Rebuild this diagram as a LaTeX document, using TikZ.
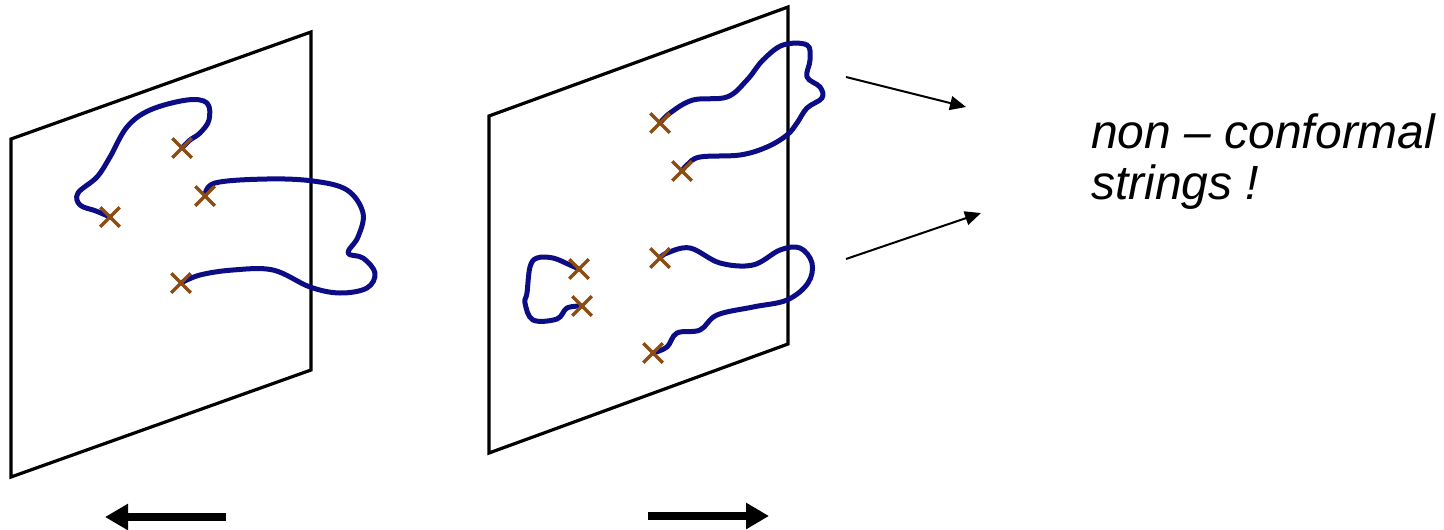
\documentclass[tikz,border=0pt]{standalone}
\usepackage{fontspec}
\setmainfont{Liberation Sans}
\usetikzlibrary{arrows.meta,shapes.misc,backgrounds}

\definecolor{strandblue}{RGB}{12,12,132}
\definecolor{punctbrown}{RGB}{140,76,18}

\begin{document}
\begin{tikzpicture}[
  x=1pt, y=-1pt,
  plane/.style={
    draw,
    line width=3.2pt,
    line join=miter
  },
  strand/.style={
    draw=strandblue,
    line width=5pt,
    line cap=round,
    line join=round
  },
  puncture/.style={
    cross out,
    draw=punctbrown,
    line width=3.5pt,
    minimum size=16pt,
    inner sep=0pt
  },
  pointer/.style={
    -{Triangle[length=16pt,width=14pt]},
    line width=2pt
  },
  push/.style={
    -{Triangle[length=23pt,width=25pt]},
    line width=8pt
  },
  caption/.style={
    font=\fontsize{48}{52}\selectfont\itshape,
    inner sep=0pt,
    anchor=base west
  }
]

\path[use as bounding box] (0,0) rectangle (1444,530);

\node[puncture] (la) at (182,148) {};
\node[puncture] (lb) at (110,217) {};
\node[puncture] (lc) at (205,196) {};
\node[puncture] (ld) at (181,283) {};

\node[puncture] (ra) at (660,123) {};
\node[puncture] (rb) at (682,171) {};
\node[puncture] (rc) at (579,269) {};
\node[puncture] (rd) at (582,306) {};
\node[puncture] (re) at (660,258) {};
\node[puncture] (rf) at (653,353) {};

\begin{scope}[on background layer]
  \draw[plane] (11,139) -- (311,32) -- (311,370) -- (11,477) -- cycle;
  \draw[plane] (489,116) -- (788,7) -- (788,344) -- (489,453) -- cycle;

  \draw[strand] plot[smooth, tension=0.6] coordinates {(lb.center) (96,211)
    (80,205) (78,193) (97,177) (110,157) (127,127) (150,110) (187,100)
    (207,103) (209,120) (200,133) (190,140) (la.center)};
  \draw[strand] plot[smooth, tension=0.6] coordinates {(lc.center) (215,183)
    (267,179) (313,181) (347,190) (363,213) (358,237) (348,253) (363,258)
    (375,273) (367,288) (340,293) (310,287) (273,270) (233,270) (200,275)
    (ld.center)};

  \draw[strand] plot[smooth, tension=0.6] coordinates {(ra.center) (670,113)
    (693,100) (727,97) (747,80) (763,60) (783,45) (807,45) (810,60) (807,77)
    (820,87) (822,98) (807,108) (797,123) (787,135) (767,147) (740,155)
    (700,157) (687,165) (rb.center)};
  \draw[strand] plot[smooth, tension=0.6] coordinates {(rc.center) (570,265)
    (553,258) (537,258) (530,267) (527,293) (525,303) (533,320) (557,319)
    (567,308) (rd.center)};
  \draw[strand] plot[smooth, tension=0.6] coordinates {(re.center) (667,253)
    (690,248) (720,263) (753,265) (780,250) (800,248) (812,263) (808,283)
    (787,300) (753,307) (717,315) (700,330) (677,333) (667,347) (rf.center)};
\end{scope}

\coordinate (p1s) at (846,77);
\coordinate (p1e) at (966,107);
\coordinate (p2s) at (846,259);
\coordinate (p2e) at (981,213);
\draw[pointer] (p1s) -- (p1e);
\draw[pointer] (p2s) -- (p2e);

\node[caption] (t1) at (1091,148) {non – conformal};
\node[caption] (t2) at (1091,199) {strings !};

\coordinate (ml) at (226,517);
\coordinate (mlt) at (105,517);
\coordinate (mr) at (648,516);
\coordinate (mrt) at (769,516);
\draw[push] (ml) -- (mlt);
\draw[push] (mr) -- (mrt);

\end{tikzpicture}
\end{document}
